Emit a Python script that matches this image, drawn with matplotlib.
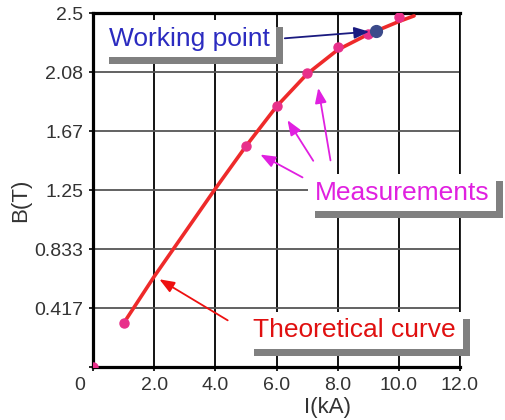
import matplotlib
matplotlib.use('Agg')
import matplotlib.pyplot as plt
import matplotlib.patheffects as pe
from matplotlib.transforms import ScaledTranslation

plt.rcParams['font.family'] = ['Liberation Sans', 'DejaVu Sans']

# theoretical B(I) curve
curve_i = [1.0, 2.0, 3.0, 4.0, 5.0, 6.0, 7.0, 8.0, 9.0, 10.0, 10.5]
curve_b = [0.31, 0.64, 0.95, 1.26, 1.56, 1.84, 2.07, 2.24, 2.35, 2.44, 2.48]

# measured points
meas_i = [0.0, 1.0, 5.0, 6.0, 7.0, 8.0, 9.0, 10.0]
meas_b = [0.0, 0.31, 1.56, 1.84, 2.08, 2.26, 2.35, 2.47]

work_i = [9.25]
work_b = [2.37]

xticks = [0, 2, 4, 6, 8, 10, 12]
xlabels = ['0', '2.0', '4.0', '6.0', '8.0', '10.0', '12.0']
yticks = [0, 2.5 / 6, 2.5 * 2 / 6, 2.5 * 3 / 6, 2.5 * 4 / 6, 2.5 * 5 / 6, 2.5]
ylabels = ['', '0.417', '0.833', '1.25', '1.67', '2.08', '2.5']

fig = plt.figure(figsize=(5.06, 4.20), dpi=100)
ax = fig.add_axes([0.184, 0.126, 0.725, 0.843])

ax.plot(curve_i, curve_b, color='#ee2a2a', lw=2.6, solid_capstyle='round', zorder=3)
ax.plot(meas_i, meas_b, 'o', color='#e8308a', ms=6.5, zorder=4)
ax.plot(work_i, work_b, 'o', color='#3b4a8a', ms=8.5, zorder=5)

ax.set_xlim(0, 12)
ax.set_ylim(0, 2.5)
ax.set_xticks(xticks)
ax.set_xticklabels(xlabels)
ax.set_yticks(yticks)
ax.set_yticklabels(ylabels)
ax.tick_params(labelsize=14, labelcolor='#333333', length=3, width=1.2, pad=4)
# the "0" sits at the corner, left of the origin
lbl0 = ax.get_xticklabels()[0]
lbl0.set_transform(lbl0.get_transform() + ScaledTranslation(-13 / 100, 0, fig.dpi_scale_trans))

ax.xaxis.grid(True, color='black', lw=1.3)
ax.yaxis.grid(True, color='#555555', lw=1.3)
ax.set_axisbelow(True)
for s in ['left', 'bottom', 'top']:
    ax.spines[s].set_linewidth(2.3)
ax.spines['right'].set_linewidth(1.2)

ax.set_xlabel('I(kA)', fontsize=16, color='#333333', va='bottom')
ax.xaxis.set_label_coords(0.64, -0.143)
ax.set_ylabel('B(T)', fontsize=16, color='#333333')
ax.yaxis.set_label_coords(-0.17, 0.47)

shadow = [pe.withSimplePatchShadow(offset=(5, -5), shadow_rgbFace='#808080', alpha=1.0)]

def label(x, y, s, col):
    t = ax.text(x, y, s, color=col, fontsize=19, ha='center', va='center', zorder=6,
                bbox=dict(boxstyle='square,pad=0.25', fc='white', ec='none'))
    t.get_bbox_patch().set_path_effects(shadow)
    return t

label(3.14, 2.32, 'Working point', '#2b2bc0')
label(10.1, 1.23, 'Measurements', '#e020e0')
label(8.56, 0.26, 'Theoretical curve', '#e01010')

ax.annotate('', xy=(9.12, 2.37), xytext=(6.18, 2.32), zorder=7,
            arrowprops=dict(arrowstyle='-|>,head_length=0.9,head_width=0.35', color='#1a1a80', lw=1.3))
ax.annotate('', xy=(2.09, 0.63), xytext=(4.48, 0.32), zorder=7,
            arrowprops=dict(arrowstyle='-|>,head_length=0.9,head_width=0.35', color='#ee1010', lw=1.3))
for tail, head in [((6.93, 1.33), (5.39, 1.51)),
                   ((7.25, 1.44), (6.31, 1.76)),
                   ((7.78, 1.44), (7.35, 1.99))]:
    ax.annotate('', xy=head, xytext=tail, zorder=7,
                arrowprops=dict(arrowstyle='-|>,head_length=0.9,head_width=0.35', color='#e020e0', lw=1.3))

fig.savefig('out.png', dpi=100)
